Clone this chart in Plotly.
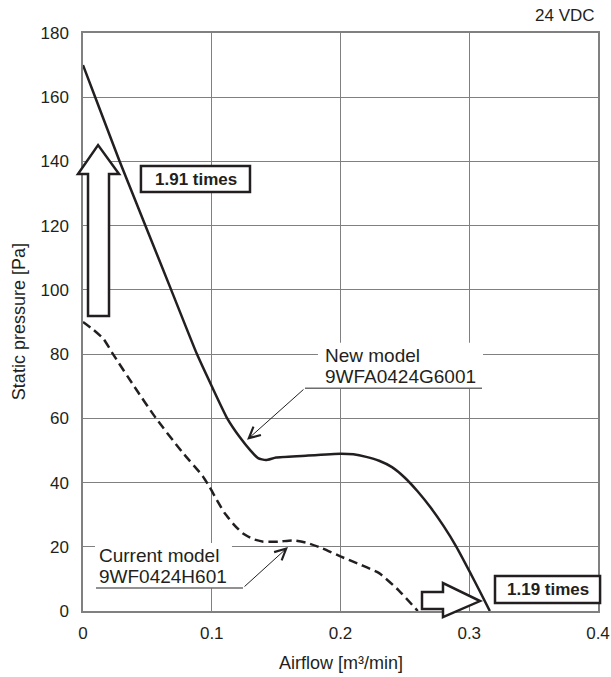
import plotly.graph_objects as go

# ---------------- data ----------------
new_x = [0, 0.0095, 0.0285, 0.0485, 0.0685, 0.0885, 0.1, 0.112, 0.122, 0.13, 0.136, 0.142, 0.15, 0.17, 0.2,
         0.21, 0.22, 0.23, 0.24, 0.25, 0.26, 0.27, 0.28, 0.29, 0.3, 0.308, 0.316]
new_y = [170, 160, 140, 120, 100, 80, 70, 60, 54, 50, 47.6, 47, 47.8, 48.3, 49,
         48.8, 48, 46.8, 44.8, 41.5, 37.2, 32.2, 26.5, 20, 12.5, 6.3, 0]

cur_x = [0, 0.008, 0.016, 0.0233, 0.04, 0.0567, 0.077, 0.093, 0.0985, 0.104, 0.11, 0.117, 0.124, 0.132, 0.14,
         0.152, 0.163, 0.174, 0.186, 0.2, 0.215, 0.23, 0.245, 0.26]
cur_y = [90, 87.6, 84.7, 80, 69.8, 60, 49.5, 42, 38.5, 34.5, 30.5, 27, 24.2, 22.4, 21.6,
         21.6, 22, 21.2, 19.5, 17, 14.5, 11.8, 6.5, 0]

x_tick_vals = [0, 0.1, 0.2, 0.3, 0.4]
x_tick_text = ["0", "0.1", "0.2", "0.3", "0.4"]
y_tick_vals = [0, 20, 40, 60, 80, 100, 120, 140, 160, 180]
y_tick_text = ["0", "20", "40", "60", "80", "100", "120", "140", "160", "180"]

X_RANGE = [0, 0.4]
Y_RANGE = [0, 180]

INK = "#231f20"
GRID = "#808080"
FONT = "Liberation Sans, Arial, Helvetica, sans-serif"


def dx(x):
    return (x - X_RANGE[0]) / (X_RANGE[1] - X_RANGE[0])


def dy(y):
    return (y - Y_RANGE[0]) / (Y_RANGE[1] - Y_RANGE[0])


def path(points):
    s = "M " + " L ".join(f"{dx(x):.5f},{dy(y):.5f}" for x, y in points) + " Z"
    return s


fig = go.Figure()

fig.add_trace(go.Scatter(
    x=cur_x, y=cur_y, mode="lines", name="Current model",
    line=dict(color=INK, width=2.5, dash="9px,5px", shape="spline", smoothing=0.5),
    showlegend=False, hoverinfo="skip"))

fig.add_trace(go.Scatter(
    x=new_x, y=new_y, mode="lines", name="New model",
    line=dict(color=INK, width=2.5, shape="spline", smoothing=0.5),
    showlegend=False, hoverinfo="skip"))

shapes = []
common = dict(xref="x domain", yref="y domain", layer="above")

# up hollow arrow
up = [(0.0039, 91.9), (0.0202, 91.9), (0.0202, 136.1), (0.028, 136.1),
      (0.0117, 145.1), (-0.0039, 136.1), (0.0039, 136.1)]
shapes.append(dict(type="path", path=path(up), fillcolor="white",
                   line=dict(color=INK, width=2.5), **common))
# right hollow arrow
rt = [(0.2633, 5.9), (0.2796, 5.9), (0.2796, 8.7), (0.3084, 3.1),
      (0.2796, -1.9), (0.2796, 0.6), (0.2633, 0.6)]
shapes.append(dict(type="path", path=path(rt), fillcolor="white",
                   line=dict(color=INK, width=2.5), **common))

# ratio boxes
for (x0, x1, y0, y1) in [(0.045, 0.1297, 130.5, 138.6), (0.32, 0.4016, 2.5, 10.9)]:
    shapes.append(dict(type="rect", x0=dx(x0), x1=dx(x1), y0=dy(y0), y1=dy(y1),
                       fillcolor="white", line=dict(color=INK, width=2.5), **common))

# white label backgrounds
for (x0, x1, y0, y1) in [(0.1825, 0.3107, 69.4, 83.5), (0.0093, 0.1157, 7.2, 21.2)]:
    shapes.append(dict(type="rect", x0=dx(x0), x1=dx(x1), y0=dy(y0), y1=dy(y1),
                       fillcolor="white", line=dict(width=0), **common))

# underlines
for (x0, x1, yy) in [(0.1724, 0.3099, 69.4), (0.0101, 0.1243, 7.2)]:
    shapes.append(dict(type="line", x0=dx(x0), x1=dx(x1), y0=dy(yy), y1=dy(yy),
                       line=dict(color="#6d6d6d", width=1.5), **common))

annotations = []
tf = dict(family=FONT, color=INK)

# ratio texts
annotations.append(dict(x=0.0874, y=134.5, xref="x", yref="y", text="<b>1.91 times</b>",
                        showarrow=False, font=dict(size=17, **tf)))
annotations.append(dict(x=0.3608, y=6.7, xref="x", yref="y", text="<b>1.19 times</b>",
                        showarrow=False, font=dict(size=17, **tf)))

# model labels
for txt, x, y in [("New model", 0.1864, 79.7), ("9WFA0424G6001", 0.1864, 72.9),
                  ("Current model", 0.0109, 17.4), ("9WF0424H601", 0.0109, 10.6)]:
    annotations.append(dict(x=x, y=y, xref="x", yref="y", text=txt, showarrow=False,
                            xanchor="left", yanchor="middle", font=dict(size=19, **tf)))

# leader arrows
for (tx, ty, ax, ay) in [(0.1274, 53.3, 0.1724, 69.4), (0.1592, 19.9, 0.1243, 7.2)]:
    annotations.append(dict(x=tx, y=ty, xref="x", yref="y", ax=ax, ay=ay, axref="x", ayref="y",
                            text="", showarrow=True, arrowhead=5, arrowsize=2.2,
                            arrowwidth=1, arrowcolor=INK, standoff=0, startstandoff=0))

# titles
annotations.append(dict(x=-0.124, y=0.5, xref="paper", yref="y domain", text="Static pressure [Pa]",
                        textangle=-90, showarrow=False, xanchor="center", yanchor="middle",
                        font=dict(size=18, **tf)))
annotations.append(dict(x=dx(0.2), y=-0.09, xref="x domain", yref="y domain", text="Airflow [m³/min]",
                        showarrow=False, xanchor="center", yanchor="middle",
                        font=dict(size=18, **tf)))
annotations.append(dict(x=0.998, y=1.031, xref="x domain", yref="y domain", text="24 VDC",
                        showarrow=False, xanchor="right", yanchor="middle",
                        font=dict(size=17, **tf)))

fig.update_layout(
    width=611, height=677, autosize=False,
    margin=dict(l=83, r=13, t=33, b=66),
    paper_bgcolor="white", plot_bgcolor="white",
    font=dict(family=FONT, color=INK, size=17),
    shapes=shapes, annotations=annotations,
    showlegend=False,
)
fig.update_xaxes(range=X_RANGE, tickvals=x_tick_vals, ticktext=x_tick_text, automargin=False,
                 showgrid=True, gridcolor=GRID, gridwidth=1, zeroline=False,
                 showline=True, linecolor=GRID, linewidth=1.5, mirror=True,
                 ticks="", ticklabelstandoff=6, tickfont=dict(size=17, family=FONT, color=INK))
fig.update_yaxes(range=Y_RANGE, tickvals=y_tick_vals, ticktext=y_tick_text, automargin=False,
                 showgrid=True, gridcolor=GRID, gridwidth=1, zeroline=False,
                 showline=True, linecolor=GRID, linewidth=1.5, mirror=True,
                 ticks="", ticklabelstandoff=9, tickfont=dict(size=17, family=FONT, color=INK))

fig.write_html(
    "out.html",
    config={"displayModeBar": False, "responsive": False},
    post_script=("document.documentElement.style.overflow='hidden';"
                 "document.body.style.overflow='hidden';"
                 "document.body.style.margin='0';"),
)
